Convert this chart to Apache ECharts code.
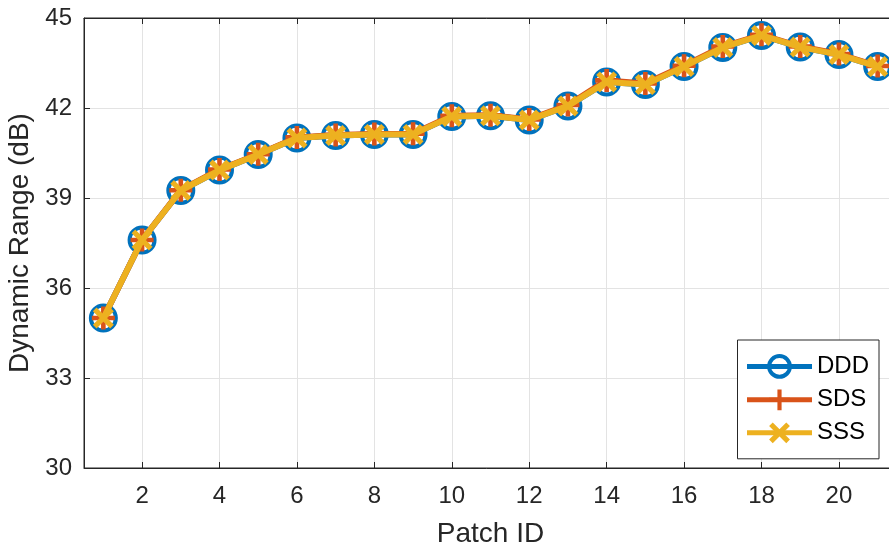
<!DOCTYPE html>
<html>
<head>
<meta charset="utf-8">
<title>Dynamic Range</title>
<script src="https://cdn.jsdelivr.net/npm/echarts@6/dist/echarts.min.js"></script>
<style>
  html, body { margin: 0; padding: 0; background: #fff; }
  #chart { width: 889px; height: 548px; }
</style>
</head>
<body>
<div id="chart"></div>
<script>
// data
var patchIds = [1, 2, 3, 4, 5, 6, 7, 8, 9, 10, 11, 12, 13, 14, 15, 16, 17, 18, 19, 20, 21];
var dddValues = [35.0, 37.6, 39.25, 39.93, 40.45, 41.0, 41.08, 41.12, 41.12, 41.72, 41.74, 41.6, 42.07, 42.87, 42.78, 43.38, 44.02, 44.42, 44.03, 43.78, 43.38];
var sdsValues = [35.0, 37.6, 39.26, 39.95, 40.46, 41.02, 41.1, 41.13, 41.14, 41.74, 41.76, 41.62, 42.1, 42.92, 42.82, 43.41, 44.05, 44.44, 44.05, 43.8, 43.4];
var sssValues = [35.0, 37.6, 39.25, 39.93, 40.45, 41.0, 41.08, 41.12, 41.12, 41.72, 41.74, 41.6, 42.07, 42.87, 42.78, 43.38, 44.02, 44.42, 44.03, 43.78, 43.38];
var xTicks = [2, 4, 6, 8, 10, 12, 14, 16, 18, 20];

var FONT = "'Liberation Sans', Arial, Helvetica, sans-serif";
var AXIS_COLOR = '#262626';

// marker shapes (MATLAB style + and x)
var plusPath = 'path://M-10,-2 L10,-2 L10,2 L-10,2 Z M-2,-10 L2,-10 L2,10 L-2,10 Z';
var crossPath = 'path://M-10,-6.5 L-6.5,-10 L10,6.5 L6.5,10 Z M6.5,-10 L10,-6.5 L-6.5,10 L-10,6.5 Z';

function pairs(vals) {
	var out = [];
	for (var i = 0; i < patchIds.length; i++) {
		out.push([patchIds[i], vals[i]]);
	}
	return out;
}

var chart = echarts.init(document.getElementById('chart'));

var option = {
	animation: false,
	backgroundColor: '#fff',
	textStyle: { fontFamily: FONT },
	grid: {
		left: 84,
		top: 18,
		height: 450,
		width: 813, // the plot runs a little past the right edge of the picture
		outerBoundsMode: 'none',
		show: true,
		borderColor: AXIS_COLOR,
		borderWidth: 1
	},
	legend: {
		orient: 'vertical',
		right: 10,
		top: 340,
		itemWidth: 65,
		itemHeight: 26,
		itemGap: 9,
		padding: [14, 10, 14, 7],
		borderColor: AXIS_COLOR,
		borderWidth: 1,
		backgroundColor: '#fff',
		lineStyle: { width: 5 },
		textStyle: { fontSize: 24, color: '#000', fontFamily: FONT },
		data: [
			{ name: 'DDD', itemStyle: { borderWidth: 4, borderColor: '#0072BD' } },
			{ name: 'SDS' },
			{ name: 'SSS' }
		]
	},
	xAxis: [{
		type: 'value',
		min: 0.5,
		max: 21.5,
		name: 'Patch ID',
		nameLocation: 'middle',
		nameGap: 52,
		nameTextStyle: { fontSize: 28, color: AXIS_COLOR, fontFamily: FONT },
		axisLine: { lineStyle: { color: AXIS_COLOR, width: 1 } },
		axisTick: { inside: true, length: 6, customValues: xTicks, lineStyle: { color: AXIS_COLOR } },
		axisLabel: { customValues: xTicks, fontSize: 24, color: AXIS_COLOR, margin: 16, fontFamily: FONT },
		splitLine: { show: true, lineStyle: { color: '#e3e3e3', width: 1 } }
	}, {
		type: 'value',
		position: 'top',
		min: 0.5,
		max: 21.5,
		axisLine: { lineStyle: { color: AXIS_COLOR, width: 1 } },
		axisTick: { inside: true, length: 6, customValues: xTicks, lineStyle: { color: AXIS_COLOR } },
		axisLabel: { show: false },
		splitLine: { show: false }
	}],
	yAxis: {
		type: 'value',
		min: 30,
		max: 45,
		interval: 3,
		name: 'Dynamic Range (dB)',
		nameLocation: 'middle',
		nameGap: 48,
		nameTextStyle: { fontSize: 28, color: AXIS_COLOR, fontFamily: FONT },
		axisLine: { show: true, lineStyle: { color: AXIS_COLOR, width: 1 } },
		axisTick: { show: true, inside: true, length: 6, lineStyle: { color: AXIS_COLOR } },
		axisLabel: { fontSize: 24, color: AXIS_COLOR, margin: 12, fontFamily: FONT },
		splitLine: { show: true, lineStyle: { color: '#e3e3e3', width: 1 } }
	},
	series: [{
		name: 'DDD',
		type: 'line',
		data: pairs(dddValues),
		symbol: 'circle',
		symbolSize: 25,
		lineStyle: { color: '#0072BD', width: 6 },
		itemStyle: { color: 'rgba(255,255,255,0)', borderColor: '#0072BD', borderWidth: 4 },
		z: 2
	}, {
		name: 'SDS',
		type: 'line',
		data: pairs(sdsValues),
		symbol: plusPath,
		symbolSize: 23,
		lineStyle: { color: '#D95319', width: 6 },
		itemStyle: { color: '#D95319' },
		z: 3
	}, {
		name: 'SSS',
		type: 'line',
		data: pairs(sssValues),
		symbol: crossPath,
		symbolSize: 21,
		lineStyle: { color: '#EDB120', width: 6 },
		itemStyle: { color: '#EDB120' },
		z: 4
	}]
};

chart.setOption(option, true);
</script>
</body>
</html>
